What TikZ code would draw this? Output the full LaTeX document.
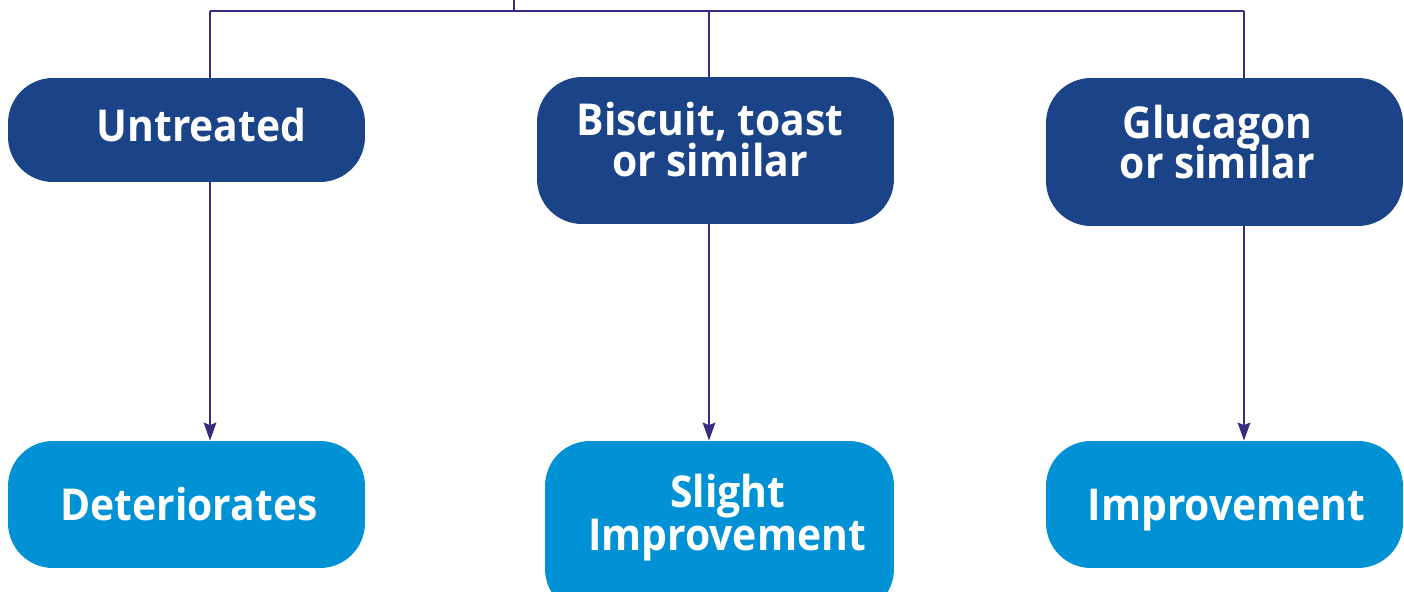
\documentclass[tikz,border=0pt]{standalone}
\usepackage{fontspec}
\setmainfont{Open Sans}[FakeStretch=0.93]
\usetikzlibrary{arrows.meta}
\definecolor{darkbox}{HTML}{1A4388}
\definecolor{lightbox}{HTML}{0092D5}
\definecolor{linecol}{HTML}{3A2A80}
\tikzset{
  boxbase/.style={rectangle, rounded corners=0.9cm, inner sep=0pt, minimum width=7.14cm},
  topbox/.style={boxbase, fill=darkbox},
  botbox/.style={boxbase, fill=lightbox},
  lbl/.style={text=white, font=\bfseries\fontsize{25}{30}\selectfont, anchor=base, inner sep=0pt},
  conn/.style={draw=linecol, line width=1.55pt},
  arr/.style={conn, -{Stealth[length=0.36cm,width=0.25cm,inset=0.05cm]}}
}
\begin{document}
\begin{tikzpicture}[x=0.02cm,y=-0.02cm]
\useasboundingbox (0,0) rectangle (1404,592);
% top boxes
\node[topbox, minimum height=2.08cm] (u) at (186.5,130) {};
\node[topbox, minimum height=2.94cm] (b) at (715.5,150.5) {};
\node[topbox, minimum height=2.96cm] (g) at (1224.5,152) {};
% bottom boxes
\node[botbox, minimum height=2.54cm] (d) at (186.5,504.5) {};
\node[botbox, minimum width=6.98cm, minimum height=3.46cm] (s) at (719.5,527.5) {};
\node[botbox, minimum height=2.54cm] (i) at (1224.5,504.5) {};
% labels (one node per printed line, placed by baseline)
\node[lbl] (ut)  at (201.5,141.5) {Untreated};
\node[lbl] (bt1) at (710,135) {Biscuit, toast};
\node[lbl] (bt2) at (710,176) {or similar};
\node[lbl] (gt1) at (1217.5,138.3) {Glucagon};
\node[lbl] (gt2) at (1217.5,178.3) {or similar};
\node[lbl] (dt)  at (189,520) {Deteriorates};
\node[lbl] (st1) at (728,507) {Slight};
\node[lbl] (st2) at (727,550) {Improvement};
\node[lbl] (it)  at (1226.5,520) {Improvement};
% connectors
\coordinate (top) at (514,0);
\coordinate (j) at (514,11);
\coordinate (l) at (210,11);
\coordinate (m) at (709,11);
\coordinate (r) at (1244,11);
\draw[conn] (top) -- (j);
\draw[conn] (l) -- (r);
\draw[conn] (l) -- (l |- u.north);
\draw[conn] (m) -- (m |- b.north);
\draw[conn] (r) -- (r |- g.north);
\draw[arr] (l |- u.south) -- (l |- d.north);
\draw[arr] (m |- b.south) -- (m |- s.north);
\draw[arr] (r |- g.south) -- (r |- i.north);
\end{tikzpicture}
\end{document}
